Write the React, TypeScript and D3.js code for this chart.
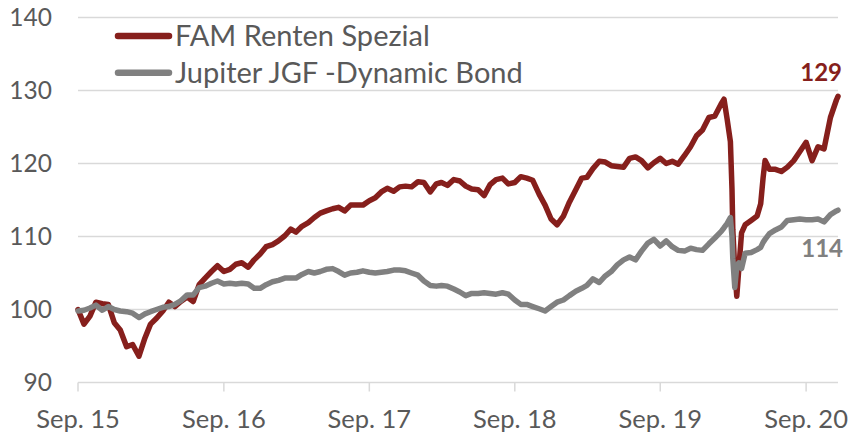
import * as d3 from 'd3';

// semimonthly readings, extra points around the March 2020 crash
const DATES = [
  '2015-09-01', '2015-09-16', '2015-10-01', '2015-10-16', '2015-11-01', '2015-11-16', '2015-12-01', '2015-12-16',
  '2016-01-01', '2016-01-16', '2016-02-01', '2016-02-16', '2016-03-01', '2016-03-16', '2016-04-01', '2016-04-16',
  '2016-05-01', '2016-05-16', '2016-06-01', '2016-06-16', '2016-07-01', '2016-07-16', '2016-08-01', '2016-08-16',
  '2016-09-01', '2016-09-16', '2016-10-01', '2016-10-16', '2016-11-01', '2016-11-16', '2016-12-01', '2016-12-16',
  '2017-01-01', '2017-01-16', '2017-02-01', '2017-02-16', '2017-03-01', '2017-03-16', '2017-04-01', '2017-04-16',
  '2017-05-01', '2017-05-16', '2017-06-01', '2017-06-16', '2017-07-01', '2017-07-16', '2017-08-01', '2017-08-16',
  '2017-09-01', '2017-09-16', '2017-10-01', '2017-10-16', '2017-11-01', '2017-11-16', '2017-12-01', '2017-12-16',
  '2018-01-01', '2018-01-16', '2018-02-01', '2018-02-16', '2018-03-01', '2018-03-16', '2018-04-01', '2018-04-16',
  '2018-05-01', '2018-05-16', '2018-06-01', '2018-06-16', '2018-07-01', '2018-07-16', '2018-08-01', '2018-08-16',
  '2018-09-01', '2018-09-16', '2018-10-01', '2018-10-16', '2018-11-01', '2018-11-16', '2018-12-01', '2018-12-16',
  '2019-01-01', '2019-01-16', '2019-02-01', '2019-02-16', '2019-03-01', '2019-03-16', '2019-04-01', '2019-04-16',
  '2019-05-01', '2019-05-16', '2019-06-01', '2019-06-16', '2019-07-01', '2019-07-16', '2019-08-01', '2019-08-16',
  '2019-09-01', '2019-09-16', '2019-10-01', '2019-10-16', '2019-11-01', '2019-11-16', '2019-12-01', '2019-12-16',
  '2020-01-01', '2020-01-16', '2020-02-01', '2020-02-08', '2020-02-16', '2020-02-24', '2020-02-28', '2020-03-01',
  '2020-03-06', '2020-03-11', '2020-03-16', '2020-03-23', '2020-04-01', '2020-04-16', '2020-05-01', '2020-05-10',
  '2020-05-16', '2020-05-21', '2020-06-01', '2020-06-16', '2020-07-01', '2020-07-16', '2020-08-01', '2020-08-16',
  '2020-09-01', '2020-09-16', '2020-10-01', '2020-10-16', '2020-11-01', '2020-11-16', '2020-11-20',
];

const FAM = [
  100.0, 98.0, 99.1, 101.0, 100.8, 100.7, 98.2, 97.2,
  94.9, 95.2, 93.6, 96.1, 98.0, 98.8, 99.8, 101.0,
  100.4, 101.1, 101.7, 101.1, 103.4, 104.3, 105.2, 106.0,
  105.2, 105.5, 106.2, 106.4, 105.8, 106.8, 107.6, 108.6,
  108.9, 109.4, 110.1, 111.0, 110.6, 111.4, 111.9, 112.6,
  113.2, 113.5, 113.8, 114.0, 113.5, 114.3, 114.3, 114.3,
  114.9, 115.3, 116.1, 116.6, 116.2, 116.8, 116.9, 116.8,
  117.5, 117.4, 116.1, 117.2, 117.4, 117.0, 117.8, 117.6,
  116.9, 116.5, 116.4, 115.6, 117.1, 117.8, 118.0, 117.2,
  117.4, 118.2, 118.0, 117.7, 115.8, 114.3, 112.4, 111.6,
  112.8, 114.7, 116.4, 118.0, 118.1, 119.3, 120.3, 120.2,
  119.7, 119.6, 119.5, 120.7, 120.9, 120.4, 119.4, 120.1,
  120.7, 120.0, 120.3, 119.9, 121.1, 122.3, 123.8, 124.6,
  126.3, 126.5, 128.2, 128.8, 126.0, 123.0, 116.5, 111.0,
  105.5, 101.8, 105.5, 110.5, 111.6, 112.2, 112.8, 114.5,
  118.0, 120.4, 119.2, 119.2, 118.9, 119.5, 120.4, 121.6,
  122.9, 120.4, 122.3, 122.0, 126.3, 128.7, 129.2,
];

const JUPITER = [
  99.8, 99.9, 100.2, 100.6, 99.9, 100.4, 100.0, 99.8,
  99.7, 99.5, 98.9, 99.4, 99.7, 100.0, 100.3, 100.4,
  100.7, 101.2, 102.0, 102.0, 103.0, 103.2, 103.6, 103.9,
  103.5, 103.6, 103.5, 103.6, 103.5, 102.9, 102.9, 103.4,
  103.8, 104.0, 104.3, 104.3, 104.3, 104.8, 105.2, 105.0,
  105.2, 105.5, 105.6, 105.2, 104.7, 105.0, 105.1, 105.3,
  105.1, 105.0, 105.1, 105.2, 105.4, 105.4, 105.3, 105.0,
  104.7, 103.9, 103.3, 103.2, 103.3, 103.2, 102.8, 102.4,
  101.9, 102.2, 102.2, 102.3, 102.2, 102.1, 102.3, 102.1,
  101.3, 100.7, 100.7, 100.4, 100.1, 99.8, 100.4, 101.0,
  101.3, 101.9, 102.5, 102.9, 103.3, 104.2, 103.7, 104.6,
  105.2, 106.1, 106.8, 107.2, 106.8, 108.0, 109.1, 109.6,
  108.7, 109.4, 108.6, 108.1, 108.0, 108.4, 108.2, 108.1,
  109.0, 109.8, 110.7, 111.2, 111.8, 112.6, 110.0, 107.0,
  103.0, 105.9, 106.4, 105.6, 107.7, 107.8, 108.2, 108.5,
  109.2, 109.6, 110.4, 110.9, 111.3, 112.2, 112.3, 112.4,
  112.3, 112.3, 112.4, 112.0, 113.0, 113.5, 113.6,
];

const SERIES_NAMES = ['FAM Renten Spezial', 'Jupiter JGF -Dynamic Bond'];
const END_LABELS = ['129', '114'];
const Y_TICKS = [90, 100, 110, 120, 130, 140];
const X_TICKS = ['2015-09-01', '2016-09-01', '2017-09-01', '2018-09-01', '2019-09-01', '2020-09-01'];
const X_LABELS = ['Sep. 15', 'Sep. 16', 'Sep. 17', 'Sep. 18', 'Sep. 19', 'Sep. 20'];

const RED = '#861f1c';
const GREY = '#808080';
const TEXT = '#595959';
const GRID = '#d9d9d9';
const FONT = 'Lato, "Open Sans", sans-serif';

const parse = d3.timeParse('%Y-%m-%d');

export default function App() {
  const width = 850;
  const height = 434;
  const left = 78;
  const right = 838;
  const top = 17.5;
  const bottom = 382.5;

  const dates = DATES.map((d) => parse(d) as Date);
  const x = d3.scaleTime()
    .domain([dates[0], dates[dates.length - 1]])
    .range([left, right]);
  const y = d3.scaleLinear().domain([90, 140]).range([bottom, top]);

  const line = d3.line<number>()
    .x((_, i) => x(dates[i]))
    .y((v) => y(v));

  const series = [
    { name: SERIES_NAMES[0], values: FAM, color: RED, label: END_LABELS[0] },
    { name: SERIES_NAMES[1], values: JUPITER, color: GREY, label: END_LABELS[1] },
  ];

  return (
    <svg
      width={width}
      height={height}
      style={{ position: 'absolute', left: 0, top: 0, background: '#fff' }}
      fontFamily={FONT}
    >
      {/* gridlines */}
      {Y_TICKS.filter((t) => t !== 90).map((t) => (
        <line key={t} x1={left} x2={right} y1={y(t)} y2={y(t)} stroke={GRID} strokeWidth={1.5} />
      ))}

      {/* x axis */}
      <line x1={left} x2={right} y1={bottom} y2={bottom} stroke={GRID} strokeWidth={1.5} />
      {X_TICKS.map((t, i) => {
        const xp = x(parse(t) as Date);
        return (
          <g key={t}>
            <line x1={xp} x2={xp} y1={bottom} y2={bottom + 9} stroke={GRID} strokeWidth={1.5} />
            <text x={xp} y={427.5} textAnchor="middle" fontSize={25.5} fill={TEXT}>
              {X_LABELS[i]}
            </text>
          </g>
        );
      })}

      {/* y labels */}
      {Y_TICKS.map((t) => (
        <text key={t} x={52} y={y(t) + 8.9} textAnchor="end" fontSize={24.5} fill={TEXT}>
          {t}
        </text>
      ))}

      {/* lines */}
      {series.map((s) => (
        <path
          key={s.name}
          d={line(s.values) || ''}
          fill="none"
          stroke={s.color}
          strokeWidth={5.5}
          strokeLinejoin="round"
          strokeLinecap="round"
        />
      ))}

      {/* end labels */}
      <text x={842} y={81} textAnchor="end" fontSize={24} fontWeight="bold" fill={RED}>
        {series[0].label}
      </text>
      <text x={843} y={257} textAnchor="end" fontSize={24} fontWeight="bold" fill={GREY}>
        {series[1].label}
      </text>

      {/* legend */}
      {series.map((s, i) => (
        <g key={s.name} transform={`translate(0,${36 + i * 36.7})`}>
          <line x1={118} x2={169} y1={0} y2={0} stroke={s.color} strokeWidth={6.5} strokeLinecap="round" />
          <text x={175} y={10} fontSize={29} fill={TEXT}>
            {s.name}
          </text>
        </g>
      ))}
    </svg>
  );
}
